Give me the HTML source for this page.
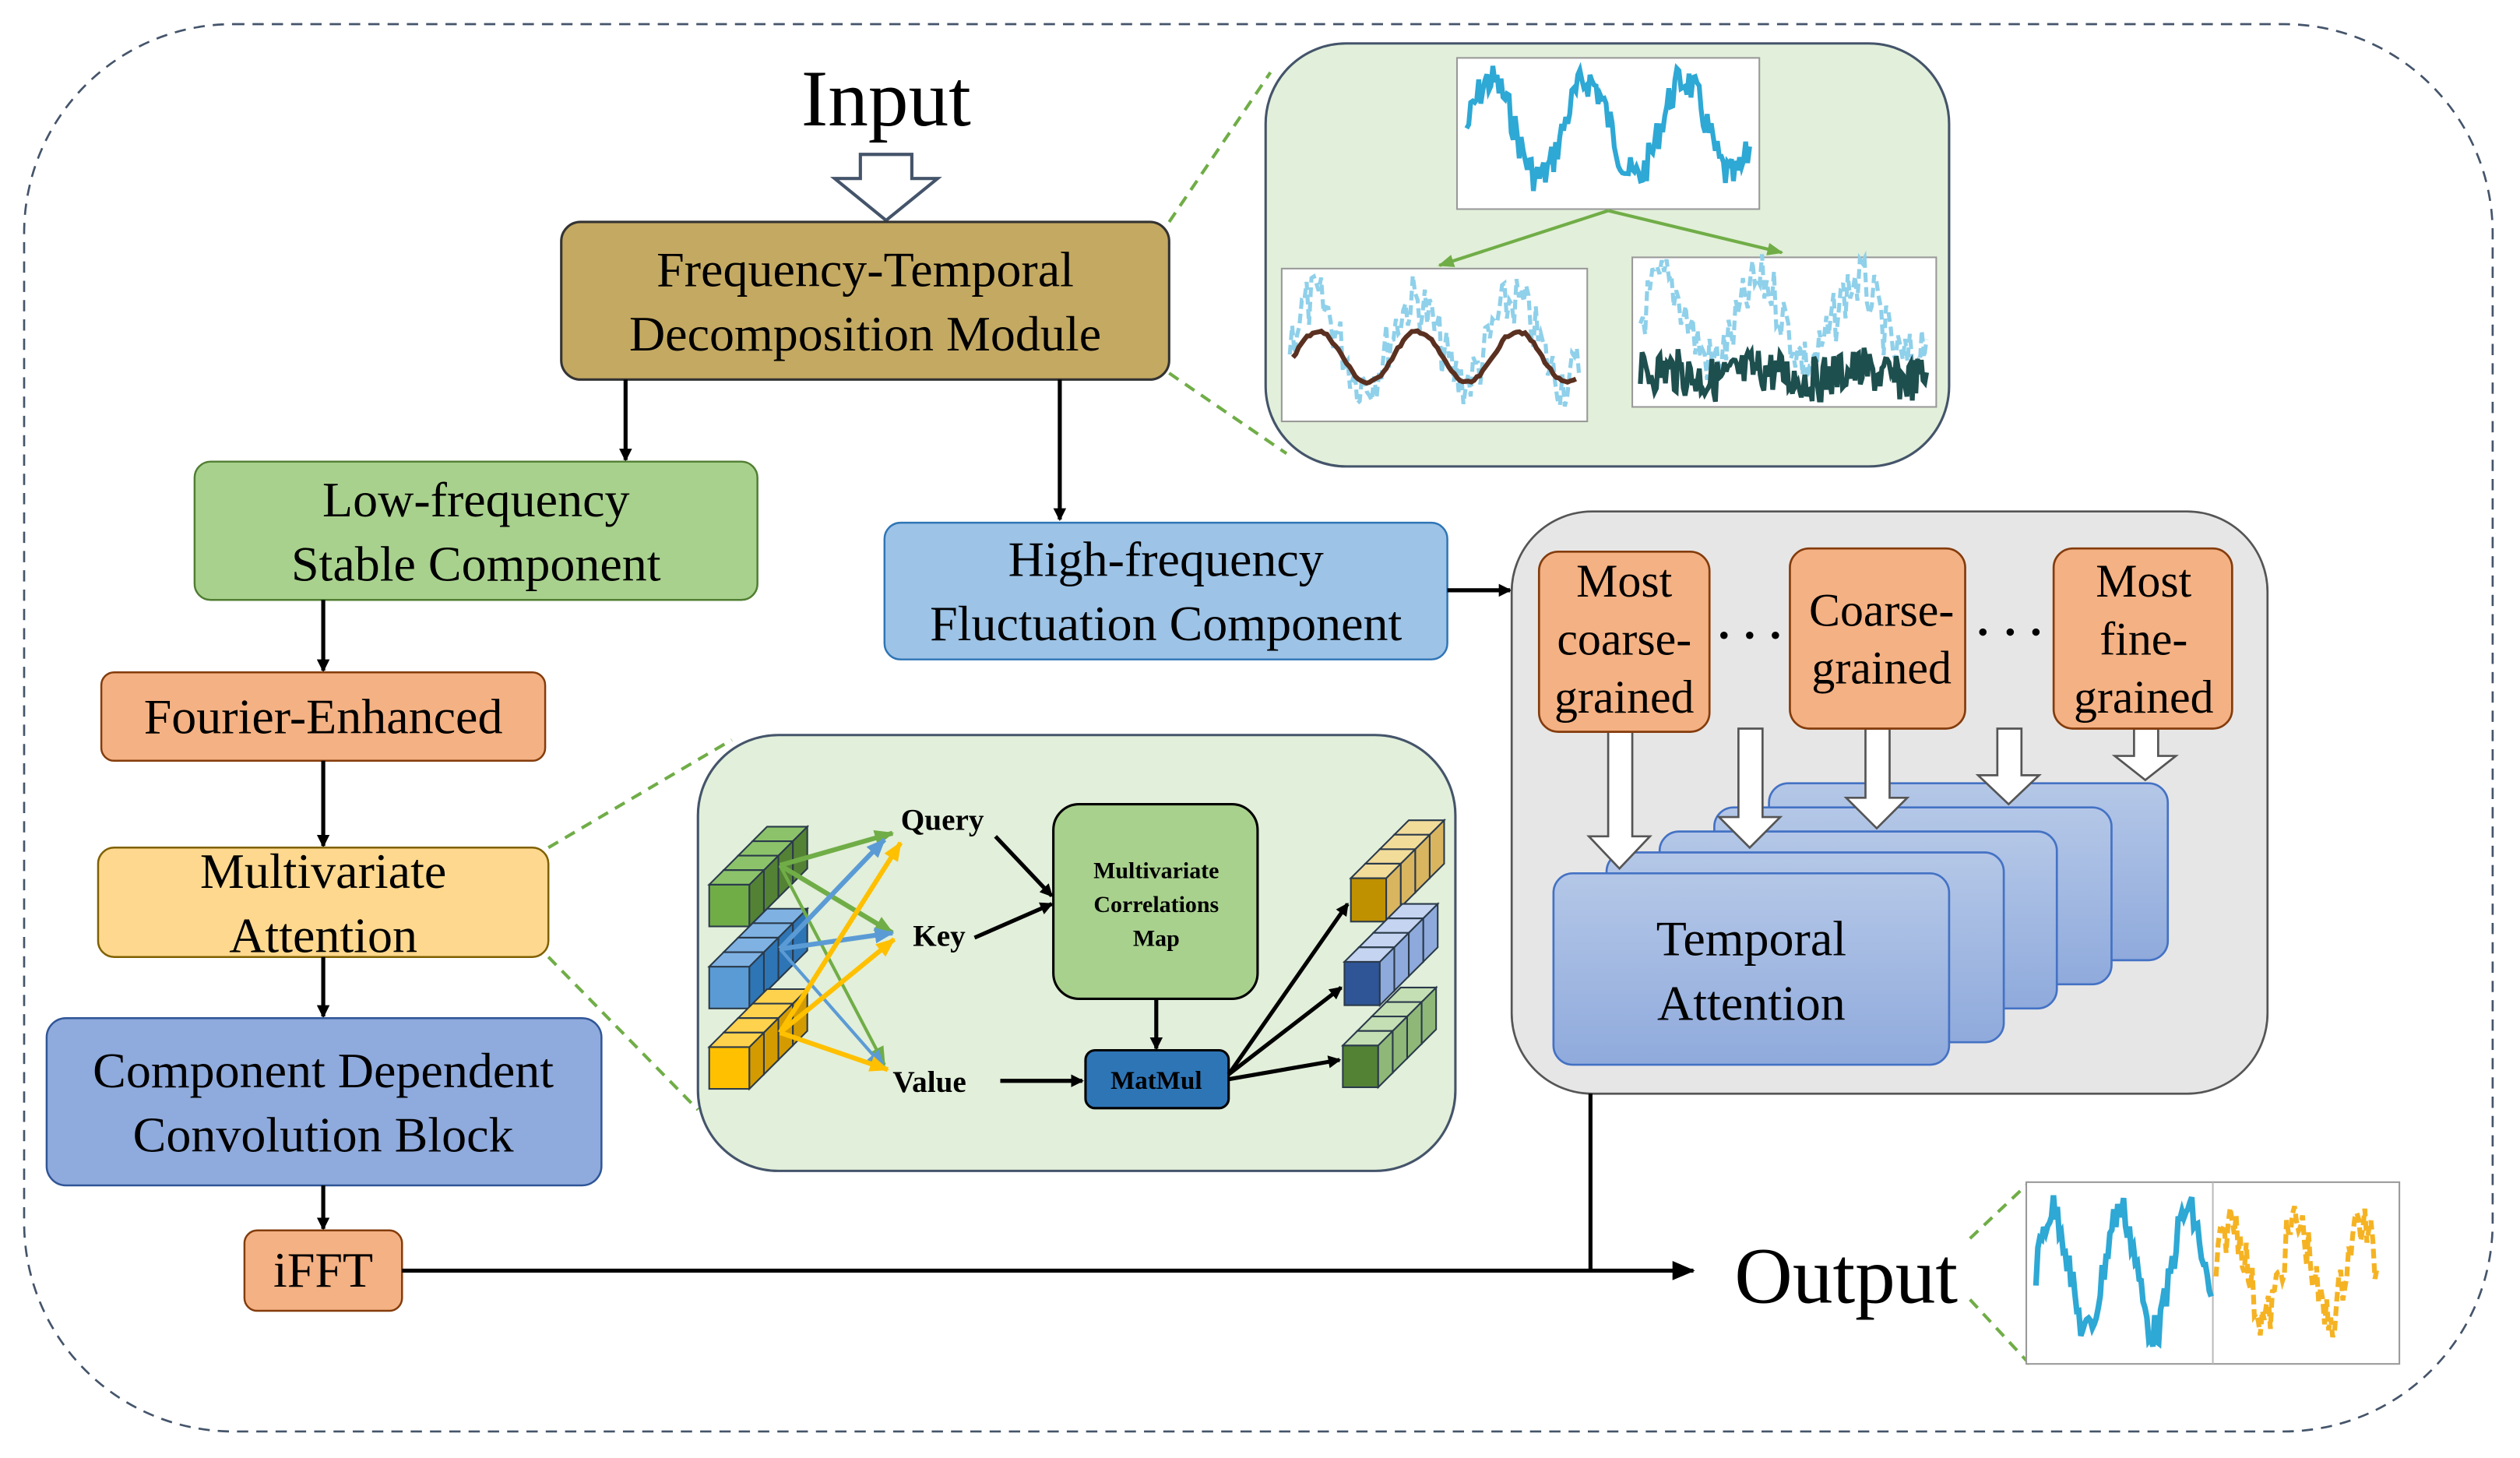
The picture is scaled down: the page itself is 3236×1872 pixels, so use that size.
<!DOCTYPE html>
<html><head><meta charset="utf-8"><style>
html,body{margin:0;padding:0;background:#fff}
svg{display:block}
text{font-family:"Liberation Serif",serif}
</style></head><body>
<svg id="s" width="3236" height="1872" viewBox="0 0 1567 906.5" xmlns="http://www.w3.org/2000/svg">
<defs>
<marker id="ah" markerWidth="8" markerHeight="8" refX="7" refY="4" orient="auto" markerUnits="userSpaceOnUse"><path d="M0,0 L8,4 L0,8 z" fill="#000"/></marker>
<marker id="ahb" markerWidth="14" markerHeight="12" refX="13" refY="6" orient="auto" markerUnits="userSpaceOnUse"><path d="M0,0 L14,6 L0,12 z" fill="#000"/></marker>
<marker id="ahg" markerWidth="10" markerHeight="8" refX="9" refY="4" orient="auto" markerUnits="userSpaceOnUse"><path d="M0,0 L10,4 L0,8 z" fill="#70ad47"/></marker>
<marker id="mg" markerWidth="12" markerHeight="10" refX="11" refY="5" orient="auto" markerUnits="userSpaceOnUse"><path d="M0,0 L12,5 L0,10 z" fill="#70ad47"/></marker>
<marker id="mb" markerWidth="12" markerHeight="10" refX="11" refY="5" orient="auto" markerUnits="userSpaceOnUse"><path d="M0,0 L12,5 L0,10 z" fill="#5b9bd5"/></marker>
<marker id="my" markerWidth="12" markerHeight="10" refX="11" refY="5" orient="auto" markerUnits="userSpaceOnUse"><path d="M0,0 L12,5 L0,10 z" fill="#ffc000"/></marker>
<linearGradient id="bl" x1="0" y1="0" x2="0" y2="1"><stop offset="0" stop-color="#b4c7e7"/><stop offset="1" stop-color="#8faadc"/></linearGradient>
</defs>
<rect x="15" y="15" width="1535" height="875" rx="130" fill="none" stroke="#44546a" stroke-width="1.3" stroke-dasharray="7,5"/>

<text x="551" y="78" font-size="50" text-anchor="middle">Input</text>
<path d="M535,96 H567 V111 H583 L551,137 L519,111 H535 Z" fill="#fff" stroke="#44546a" stroke-width="2"/>

<rect x="349" y="138" width="378" height="98" rx="12" fill="#c4a962" stroke="#333" stroke-width="1.5"/>
<text x="538" y="178" font-size="31" text-anchor="middle">Frequency-Temporal</text>
<text x="538" y="218" font-size="31" text-anchor="middle">Decomposition Module</text>
<line x1="727" y1="138" x2="790" y2="45" stroke="#70ad47" stroke-width="2" stroke-dasharray="7,5"/>
<line x1="727" y1="232" x2="800" y2="282" stroke="#70ad47" stroke-width="2" stroke-dasharray="7,5"/>

<rect x="787" y="27" width="425" height="263" rx="50" fill="#e2efda" stroke="#44546a" stroke-width="1.5"/>
<rect x="906" y="36" width="188" height="94" fill="#fff" stroke="#999"/>
<rect x="797" y="167" width="190" height="95" fill="#fff" stroke="#999"/>
<rect x="1015" y="160" width="189" height="93" fill="#fff" stroke="#999"/>
<g id="sig"></g>
<line x1="1000" y1="131" x2="895" y2="165" stroke="#70ad47" stroke-width="2" marker-end="url(#ahg)"/>
<line x1="1000" y1="131" x2="1108" y2="157" stroke="#70ad47" stroke-width="2" marker-end="url(#ahg)"/>

<line x1="389" y1="236" x2="389" y2="286" stroke="#000" stroke-width="2.5" marker-end="url(#ah)"/>
<line x1="659" y1="236" x2="659" y2="323" stroke="#000" stroke-width="2.5" marker-end="url(#ah)"/>

<rect x="121" y="287" width="350" height="86" rx="10" fill="#a9d18e" stroke="#507e32" stroke-width="1.2"/>
<text x="296" y="321" font-size="31" text-anchor="middle">Low-frequency</text>
<text x="296" y="361" font-size="31" text-anchor="middle">Stable Component</text>

<rect x="550" y="325" width="350" height="85" rx="10" fill="#9dc3e6" stroke="#2e75b6" stroke-width="1.2"/>
<text x="725" y="358" font-size="31" text-anchor="middle">High-frequency</text>
<text x="725" y="398" font-size="31" text-anchor="middle">Fluctuation Component</text>
<line x1="900" y1="367" x2="939" y2="367" stroke="#000" stroke-width="2.5" marker-end="url(#ah)"/>

<line x1="201" y1="373" x2="201" y2="417" stroke="#000" stroke-width="2.5" marker-end="url(#ah)"/>
<rect x="63" y="418" width="276" height="55" rx="8" fill="#f4b183" stroke="#843c0c" stroke-width="1.2"/>
<text x="201" y="456" font-size="31" text-anchor="middle">Fourier-Enhanced</text>
<line x1="201" y1="473" x2="201" y2="526" stroke="#000" stroke-width="2.5" marker-end="url(#ah)"/>
<rect x="61" y="527" width="280" height="68" rx="10" fill="#fdd88e" stroke="#7f6000" stroke-width="1.2"/>
<text x="201" y="552" font-size="31" text-anchor="middle">Multivariate</text>
<text x="201" y="592" font-size="31" text-anchor="middle">Attention</text>
<line x1="201" y1="595" x2="201" y2="632" stroke="#000" stroke-width="2.5" marker-end="url(#ah)"/>
<rect x="29" y="633" width="345" height="104" rx="12" fill="#8faadc" stroke="#2f5597" stroke-width="1.2"/>
<text x="201" y="676" font-size="31" text-anchor="middle">Component Dependent</text>
<text x="201" y="716" font-size="31" text-anchor="middle">Convolution Block</text>
<line x1="201" y1="737" x2="201" y2="764" stroke="#000" stroke-width="2.5" marker-end="url(#ah)"/>
<rect x="152" y="765" width="98" height="50" rx="8" fill="#f4b183" stroke="#843c0c" stroke-width="1.2"/>
<text x="201" y="800" font-size="31" text-anchor="middle">iFFT</text>

<line x1="341" y1="527" x2="455" y2="460" stroke="#70ad47" stroke-width="2" stroke-dasharray="7,5"/>
<line x1="341" y1="595" x2="434" y2="690" stroke="#70ad47" stroke-width="2" stroke-dasharray="7,5"/>
<rect x="434" y="457" width="471" height="271" rx="50" fill="#e2efda" stroke="#44546a" stroke-width="1.5"/>
<g id="cubes"></g>
<g stroke-width="3">
<line x1="485" y1="538" x2="555" y2="518" stroke="#70ad47" marker-end="url(#mg)"/>
<line x1="485" y1="538" x2="555" y2="580" stroke="#70ad47" marker-end="url(#mg)"/>
<line x1="485" y1="538" x2="550" y2="662" stroke="#70ad47" stroke-width="2" marker-end="url(#mg)"/>
<line x1="485" y1="590" x2="550" y2="522" stroke="#5b9bd5" marker-end="url(#mb)"/>
<line x1="485" y1="590" x2="555" y2="580" stroke="#5b9bd5" marker-end="url(#mb)"/>
<line x1="485" y1="590" x2="550" y2="664" stroke="#5b9bd5" stroke-width="2" marker-end="url(#mb)"/>
<line x1="485" y1="642" x2="560" y2="524" stroke="#ffc000" marker-end="url(#my)"/>
<line x1="485" y1="642" x2="556" y2="584" stroke="#ffc000" marker-end="url(#my)"/>
<line x1="485" y1="642" x2="552" y2="665" stroke="#ffc000" marker-end="url(#my)"/>
</g>
<text x="586" y="516" font-size="19" font-weight="bold" text-anchor="middle">Query</text>
<text x="584" y="588" font-size="19" font-weight="bold" text-anchor="middle">Key</text>
<text x="578" y="679" font-size="19" font-weight="bold" text-anchor="middle">Value</text>
<rect x="655" y="500" width="127" height="121" rx="16" fill="#a9d18e" stroke="#000" stroke-width="1.5"/>
<text x="719" y="546" font-size="14.5" font-weight="bold" text-anchor="middle">Multivariate</text>
<text x="719" y="567" font-size="14.5" font-weight="bold" text-anchor="middle">Correlations</text>
<text x="719" y="588" font-size="14.5" font-weight="bold" text-anchor="middle">Map</text>
<rect x="675" y="653" width="89" height="36" rx="6" fill="#2e75b6" stroke="#000" stroke-width="1.5"/>
<text x="719" y="677" font-size="16" font-weight="bold" text-anchor="middle">MatMul</text>
<g stroke="#000" stroke-width="2.5">
<line x1="619" y1="520" x2="654" y2="557" marker-end="url(#ah)"/>
<line x1="606" y1="583" x2="654" y2="562" marker-end="url(#ah)"/>
<line x1="622" y1="672" x2="673" y2="672" marker-end="url(#ah)"/>
<line x1="719" y1="621" x2="719" y2="652" marker-end="url(#ah)"/>
<line x1="764" y1="668" x2="838" y2="562" marker-end="url(#ah)"/>
<line x1="764" y1="668" x2="834" y2="614" marker-end="url(#ah)"/>
<line x1="764" y1="671" x2="833" y2="659" marker-end="url(#ah)"/>
</g>

<rect x="940" y="318" width="470" height="362" rx="50" fill="#e7e6e6" stroke="#555" stroke-width="1.3"/>
<g fill="url(#bl)" stroke="#4472c4" stroke-width="1.3">
<rect x="1100" y="487" width="248" height="110" rx="12"/>
<rect x="1066" y="502" width="247" height="110" rx="12"/>
<rect x="1032" y="517" width="247" height="110" rx="12"/>
<rect x="999" y="530" width="247" height="118" rx="12"/>
<rect x="966" y="543" width="246" height="119" rx="12"/>
</g>
<text x="1089" y="594" font-size="31" text-anchor="middle">Temporal</text>
<text x="1089" y="634" font-size="31" text-anchor="middle">Attention</text>
<g fill="#fff" stroke="#555" stroke-width="1.3">
<path d="M1000,455 H1015 V520 H1026 L1007,540 L988,520 H1000 Z"/>
<path d="M1081,453 H1096 V508 H1107 L1088,527 L1069,508 H1081 Z"/>
<path d="M1160,453 H1175 V496 H1186 L1167,515 L1148,496 H1160 Z"/>
<path d="M1242,453 H1257 V482 H1268 L1249,500 L1230,482 H1242 Z"/>
<path d="M1327,453 H1342 V470 H1353 L1334,485 L1315,470 H1327 Z"/>
</g>
<g fill="#f4b183" stroke="#843c0c" stroke-width="1.3">
<rect x="957" y="343" width="106" height="112" rx="12"/>
<rect x="1113" y="341" width="109" height="112" rx="12"/>
<rect x="1277" y="341" width="111" height="112" rx="12"/>
</g>
<g font-size="29" text-anchor="middle">
<text x="1010" y="371">Most</text><text x="1010" y="407">coarse-</text><text x="1010" y="443">grained</text>
<text x="1170" y="389">Coarse-</text><text x="1170" y="425">grained</text>
<text x="1333" y="371">Most</text><text x="1333" y="407">fine-</text><text x="1333" y="443">grained</text>
</g>
<g fill="#000"><circle cx="1072" cy="395" r="2.3"/><circle cx="1088" cy="395" r="2.3"/><circle cx="1104" cy="395" r="2.3"/>
<circle cx="1233" cy="393" r="2.3"/><circle cx="1250" cy="393" r="2.3"/><circle cx="1266" cy="393" r="2.3"/></g>

<line x1="989" y1="680" x2="989" y2="790" stroke="#000" stroke-width="2.5"/>
<line x1="250" y1="790" x2="1053" y2="790" stroke="#000" stroke-width="2.5" marker-end="url(#ahb)"/>
<text x="1148" y="810" font-size="50" text-anchor="middle">Output</text>
<line x1="1225" y1="770" x2="1262" y2="735" stroke="#70ad47" stroke-width="2" stroke-dasharray="7,5"/>
<line x1="1225" y1="808" x2="1262" y2="848" stroke="#70ad47" stroke-width="2" stroke-dasharray="7,5"/>
<rect x="1260" y="735" width="232" height="113" fill="#fff" stroke="#999"/>
<line x1="1376" y1="735" x2="1376" y2="848" stroke="#bbb"/>
<g id="out"></g>
</svg>
<script>
var NS="http://www.w3.org/2000/svg";
function el(p,t,a){var e=document.createElementNS(NS,t);for(var k in a)e.setAttribute(k,a[k]);p.appendChild(e);return e;}
var seed=7;function rnd(){seed=(seed*9301+49297)%233280;return seed/233280;}
function sig(x0,x1,yc,amp,per,noise,n){var p=[];for(var i=0;i<=n;i++){var x=x0+(x1-x0)*i/n;var y=yc-amp*Math.sin(2*Math.PI*(x-x0)/per)+(rnd()-0.5)*noise;p.push(x.toFixed(1)+","+y.toFixed(1));}return p.join(" ");}
var g=document.getElementById("sig");
el(g,"polyline",{points:sig(912,1088,80,30,60,22,140),fill:"none",stroke:"#2ea8d5","stroke-width":3});
el(g,"polyline",{points:sig(802,982,212,25,62,35,120),fill:"none",stroke:"#8fd0ea","stroke-width":2.5,"stroke-dasharray":"6,3"});
el(g,"polyline",{points:sig(804,980,222,16,62,2,100),fill:"none",stroke:"#5a3020","stroke-width":3});
el(g,"polyline",{points:sig(1020,1198,200,25,60,35,120),fill:"none",stroke:"#8fd0ea","stroke-width":2.5,"stroke-dasharray":"6,3"});
el(g,"polyline",{points:sig(1020,1198,233,3,60,28,160),fill:"none",stroke:"#1e4f4f","stroke-width":3});
var o=document.getElementById("out");
el(o,"polyline",{points:sig(1266,1375,790,38,42,22,90),fill:"none",stroke:"#2ea8d5","stroke-width":3.5});
el(o,"polyline",{points:sig(1378,1478,790,30,40,30,80),fill:"none",stroke:"#f5b324","stroke-width":3,"stroke-dasharray":"6,3"});
var c=document.getElementById("cubes");
function cube(x,y,w,h,n,front,side,top){for(var i=n-1;i>=0;i--){var dx=i*9,dy=-i*9;
el(c,"rect",{x:x+dx,y:y+dy,width:w,height:h,fill:front,stroke:"#2a3a4a","stroke-width":1});
el(c,"path",{d:"M"+(x+dx+w)+","+(y+dy)+" l9,-9 v"+h+" l-9,9 z",fill:side,stroke:"#2a3a4a","stroke-width":1});
el(c,"path",{d:"M"+(x+dx)+","+(y+dy)+" l9,-9 h"+w+" l-9,9 z",fill:top,stroke:"#2a3a4a","stroke-width":1});}}
cube(441,550,25,26,4,"#70ad47","#548235","#8cc36a");
cube(441,601,25,26,4,"#5b9bd5","#2e75b6","#7fb2e3");
cube(441,651,25,26,4,"#ffc000","#d49b00","#ffd24d");
cube(840,546,22,27,4,"#bf9000","#d9b560","#f2dc9a");
cube(836,598,22,27,4,"#2f5597","#8ea9db","#c5d4f0");
cube(835,650,22,26,4,"#548235","#8fb878","#c5dfb5");
</script>
</body></html>
